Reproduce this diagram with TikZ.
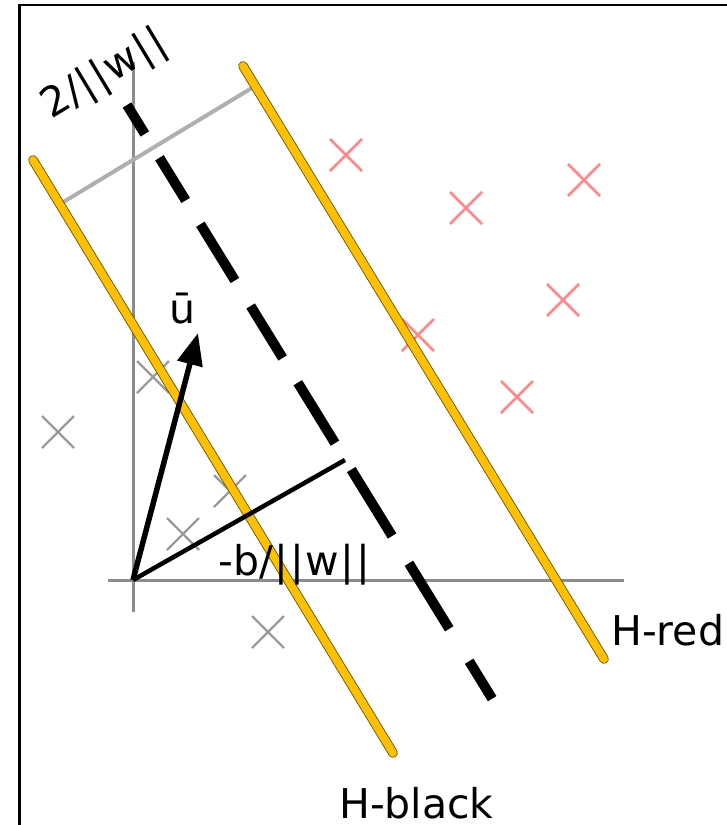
\documentclass[tikz,border=0pt]{standalone}
\usepackage{fontspec}
\setmainfont{DejaVu Sans}
\usetikzlibrary{arrows.meta}
\definecolor{hyp}{RGB}{255,192,0}
\definecolor{hypedge}{RGB}{90,75,10}
\definecolor{axisgray}{RGB}{140,140,140}
\definecolor{margray}{RGB}{175,175,175}
\definecolor{crossgray}{RGB}{155,155,155}
\definecolor{crossred}{RGB}{255,135,135}
\newcommand{\nbar}{\kern1.2pt|\kern1.2pt}
\tikzset{
  every node/.style={font=\fontsize{41}{48}\selectfont, inner sep=0pt},
  hyperplane/.style={draw=hypedge, line width=0.8pt, double=hyp, double distance=8pt, line cap=round},
  axisline/.style={draw=axisgray, line width=3pt},
  marginline/.style={draw=margray, line width=4pt},
  midline/.style={draw=black, line width=10pt,
    dash pattern=on 34pt off 28pt on 50pt off 28pt on 66pt off 30pt on 61pt off 29pt on 71pt off 31pt on 78pt off 32pt on 77pt off 38pt on 44pt},
  vecline/.style={draw=black, line width=5.5pt, -{Triangle[length=32pt,width=25pt]}},
  offsetline/.style={draw=black, line width=4.5pt},
  graycross/.style={draw=crossgray, line width=2.2pt},
  redcross/.style={draw=crossred, line width=2.5pt},
  xcross/.pic={\draw[pic actions] (-16,-16) -- (16,16) (-16,16) -- (16,-16);}
}
\begin{document}
\begin{tikzpicture}[x=1pt, y=-1pt]
  \useasboundingbox[fill=white] (0,0) rectangle (727,825);
  % frame (only left and top edges visible)
  \draw[black, line width=2.2pt] (19.5,825) -- (19.5,5) -- (727,5);

  % axes
  \coordinate (O) at (133,580);
  \coordinate (ytop) at (133,62);
  \coordinate (ybot) at (133,612);
  \coordinate (xleft) at (108,580);
  \coordinate (xright) at (624,580);
  \draw[axisline] (ybot) -- (ytop);
  \draw[axisline] (xleft) -- (xright);

  % gray points
  \pic[graycross] at (58,432) {xcross};
  \pic[graycross] at (153,377) {xcross};
  \pic[graycross] at (230,491) {xcross};
  \pic[graycross] at (183,534) {xcross};
  \pic[graycross] at (268,632) {xcross};

  % red points
  \pic[redcross] at (346,155) {xcross};
  \pic[redcross] at (466,208) {xcross};
  \pic[redcross] at (584,180) {xcross};
  \pic[redcross] at (563,300) {xcross};
  \pic[redcross] at (418,335) {xcross};
  \pic[redcross] at (517,397) {xcross};

  % margin line
  \coordinate (mA) at (58.5,205);
  \coordinate (mB) at (256,85.5);
  \draw[marginline] (mA) -- (mB);

  % hyperplanes
  \coordinate (hbA) at (33,160);
  \coordinate (hbB) at (393,753);
  \coordinate (hrA) at (243,66);
  \coordinate (hrB) at (604,659);
  \draw[hyperplane] (hbA) -- (hbB);
  \draw[hyperplane] (hrA) -- (hrB);

  % middle dashed hyperplane
  \coordinate (mdA) at (127,105);
  \coordinate (mdB) at (493,700);
  \draw[midline] (mdA) -- (mdB);

  % vectors
  \coordinate (utip) at (198,333);
  \coordinate (bend) at (345,460);
  \draw[offsetline] (O) -- (bend);
  \draw[vecline] (O) -- (utip);

  % labels
  \node[anchor=base] (lblw) at (111,84) [rotate=31] {2/\nbar\nbar w\nbar\nbar};
  \node (lblu) at (182,309) {ū};
  \node[anchor=base west] (lblb) at (218,575) {-b/\nbar\nbar w\nbar\nbar};
  \node[anchor=base west] (lblred) at (611,645) {H-red};
  \node[anchor=base west] (lblblack) at (339,818) {H-black};
\end{tikzpicture}
\end{document}
